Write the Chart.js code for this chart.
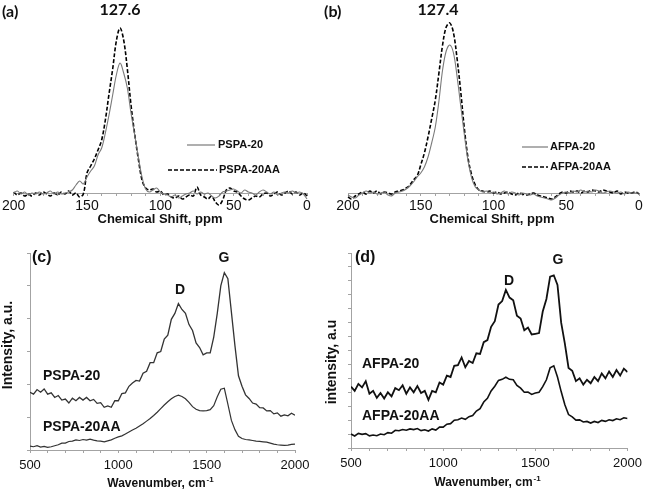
<!DOCTYPE html>
<html>
<head>
<meta charset="utf-8">
<script src="https://cdn.jsdelivr.net/npm/chart.js@4.4.1/dist/chart.umd.min.js"></script>
<style>
    body { margin: 0; background: #fff; }
    .panel { position: absolute; }
    canvas { display: block; }
</style>
</head>
<body>
<div class="panel" style="left:0;top:0"><canvas id="chartA" width="323" height="230"></canvas></div>
<div class="panel" style="left:323px;top:0"><canvas id="chartB" width="324" height="230"></canvas></div>
<div class="panel" style="left:0;top:230px"><canvas id="chartC" width="323" height="263"></canvas></div>
<div class="panel" style="left:323px;top:230px"><canvas id="chartD" width="324" height="263"></canvas></div>
<script>
// NMR chemical shift grid, ppm
const nmrShift = [200, 197.5, 195, 192.5, 190, 187.5, 185, 182.5, 180, 177.5, 175, 172.5, 170, 167.5, 165, 162.5, 160, 157.5, 155, 152.5,
    150, 147.5, 145, 142.5, 140, 137.5, 135, 132.5, 130, 127.5, 125, 122.5, 120, 117.5, 115, 112.5, 110, 107.5, 105, 102.5,
    100, 97.5, 95, 92.5, 90, 87.5, 85, 82.5, 80, 77.5, 75, 72.5, 70, 67.5, 65, 62.5, 60, 57.5, 55, 52.5,
    50, 47.5, 45, 42.5, 40, 37.5, 35, 32.5, 30, 27.5, 25, 22.5, 20, 17.5, 15, 12.5, 10, 7.5, 5, 2.5, 0];

// (a)
const pspa20 = [0, 2, -1, 1, -2, 0, -1, 1, -1, 0, 2, -1, 1, -1, 0, 1, 3, 8, 12, 9,
    16, 22, 27, 38, 45, 60, 78, 98, 118, 130, 120, 105, 80, 58, 36, 16, 4, 1, 3, 5,
    1, -1, -2, -4, -2, -5, -3, -1, 0, 2, -1, 1, -1, 0, -3, -5, -3, 1, 2, 3,
    4, 2, 0, 3, 1, 0, -2, 1, 3, 1, -1, 1, -2, 0, 1, 0, 2, 0, 1, -1, -6];
const pspa20AA = [1, -2, 0, -3, -1, -3, 0, -2, 1, -1, -3, 0, -2, 1, -1, 2, -2, 0, -4, -1,
    20, 27, 34, 43, 53, 73, 99, 124, 152, 165, 153, 124, 88, 59, 34, 13, 5, 3, 4, 1,
    2, -2, -1, -4, -5, -3, -6, -4, -2, -3, 6, -2, -4, -6, -3, -9, -12, -7, 3, 5,
    2, 1, -3, -6, -7, -5, -3, -4, -1, 0, -3, -1, 1, -2, 0, 2, -1, 1, -2, 0, -3];

// (b)
const afpa20Nmr = [-2, -4, -5, -2, 0, 2, 0, 1, -1, 0, 1, -2, -3, 0, 1, 2, 4, 7, 11, 16,
    20, 26, 36, 50, 66, 92, 123, 142, 148, 140, 116, 87, 58, 32, 15, 6, 3, 1, 2, 0,
    1, -1, 0, 2, -1, 1, 0, -2, 0, -1, -2, -1, -3, -4, -5, -6, -7, -5, -2, 0,
    1, 0, 2, 1, 3, 1, 2, 1, 3, 2, 0, 1, 2, 1, 0, 1, -1, 1, 0, 0, 0];
const afpa20AANmr = [-4, -6, -3, -1, 1, -1, 2, 0, 2, -1, 1, 0, -1, 1, 2, 3, 5, 8, 13, 17,
    28, 40, 56, 74, 93, 120, 148, 166, 170, 160, 134, 101, 64, 35, 18, 8, 3, 2, 1, 2,
    0, 1, -1, 0, 1, -1, -2, 0, -1, -2, -1, 0, -2, -3, -4, -5, -6, -4, -1, 1,
    0, 2, 1, 2, 0, 2, 1, 3, 2, 1, 3, 2, 1, 0, 2, -1, 1, 0, 0, 1, -1];

// Raman wavenumber grid, cm-1
const ramanX = [500, 520, 540, 560, 580, 600, 620, 640, 660, 680, 700, 720, 740, 760, 780, 800, 820, 840, 860, 880,
    900, 920, 940, 960, 980, 1000, 1020, 1040, 1060, 1080, 1100, 1120, 1140, 1160, 1180, 1200, 1220, 1240, 1260, 1280,
    1300, 1320, 1340, 1360, 1380, 1400, 1420, 1440, 1460, 1480, 1500, 1520, 1540, 1560, 1580, 1600, 1620, 1640, 1660, 1680,
    1700, 1720, 1740, 1760, 1780, 1800, 1820, 1840, 1860, 1880, 1900, 1920, 1940, 1960, 1980, 2000];

// (c)
const pspa20Raman = [1.76, 1.70, 1.84, 1.76, 1.86, 1.70, 1.74, 1.60, 1.66, 1.52,
    1.55, 1.43, 1.58, 1.50, 1.60, 1.52, 1.60, 1.50, 1.54, 1.42,
    1.44, 1.30, 1.34, 1.30, 1.50, 1.50, 1.72, 1.74, 1.94, 2.04,
    2.12, 2.10, 2.34, 2.40, 2.66, 2.66, 2.96, 3.00, 3.38, 3.50,
    3.98, 4.16, 4.46, 4.28, 4.16, 3.82, 3.64, 3.26, 3.12, 2.90,
    2.96, 2.96, 3.44, 4.16, 5.00, 5.40, 5.22, 4.20, 3.18, 2.26,
    1.94, 1.68, 1.57, 1.43, 1.40, 1.29, 1.28, 1.19, 1.20, 1.10,
    1.13, 1.03, 1.07, 1.04, 1.12, 1.06];
const pspa20AARaman = [0.12, 0.10, 0.13, 0.09, 0.11, 0.08, 0.10, 0.13, 0.16, 0.21,
    0.21, 0.26, 0.27, 0.31, 0.29, 0.32, 0.30, 0.33, 0.30, 0.28,
    0.27, 0.25, 0.28, 0.31, 0.36, 0.40, 0.43, 0.49, 0.55, 0.61,
    0.66, 0.73, 0.80, 0.88, 0.96, 1.05, 1.15, 1.26, 1.37, 1.47,
    1.56, 1.63, 1.67, 1.63, 1.56, 1.45, 1.32, 1.24, 1.20, 1.19,
    1.20, 1.23, 1.35, 1.62, 1.85, 1.88, 1.40, 0.90, 0.62, 0.42,
    0.35, 0.32, 0.31, 0.29, 0.27, 0.26, 0.25, 0.24, 0.21, 0.18,
    0.16, 0.15, 0.14, 0.15, 0.17, 0.18];

// (d)
const afpa20Raman = [4.40, 4.10, 4.60, 4.35, 4.80, 3.90, 4.10, 3.60, 3.95, 3.55,
    4.00, 3.70, 4.30, 4.15, 4.50, 3.90, 4.35, 4.00, 4.45, 3.95,
    4.10, 3.45, 4.10, 4.00, 4.70, 4.55, 5.20, 5.10, 5.90, 5.95,
    6.50, 5.80, 6.25, 6.10, 6.80, 6.75, 7.60, 7.75, 8.70, 9.10,
    10.30, 10.55, 11.35, 10.80, 10.60, 9.50, 9.30, 8.45, 8.65, 8.15,
    8.20, 8.25, 9.80, 10.70, 12.30, 12.40, 11.70, 9.00, 7.50, 5.75,
    5.55, 4.80, 5.00, 4.55, 4.90, 4.65, 5.10, 4.80, 5.35, 5.00,
    5.50, 5.10, 5.60, 5.20, 5.70, 5.45];
const afpa20AARaman = [1.00, 0.86, 1.05, 0.98, 1.03, 0.87, 0.93, 0.88, 1.00, 0.95,
    1.10, 1.06, 1.27, 1.24, 1.33, 1.28, 1.37, 1.32, 1.40, 1.25,
    1.31, 1.22, 1.37, 1.29, 1.50, 1.50, 1.71, 1.75, 2.00, 2.03,
    2.15, 2.06, 2.25, 2.33, 2.65, 2.83, 3.30, 3.57, 4.10, 4.43,
    4.85, 4.93, 5.08, 4.93, 4.90, 4.50, 4.30, 4.00, 4.01, 3.85,
    3.95, 4.00, 4.40, 4.90, 5.75, 5.90, 5.10, 4.05, 3.10, 2.40,
    2.23, 2.00, 2.02, 1.87, 1.91, 1.79, 1.91, 1.83, 1.98, 1.91,
    2.03, 1.97, 2.10, 2.03, 2.17, 2.12];

Chart.defaults.font.family = '"Liberation Sans", Arial, sans-serif';
Chart.defaults.color = '#111';

const AXIS_GRAY = '#a3a3a3';
const ARIAL = '"Liberation Sans", Arial, sans-serif';

// free text + legend samples drawn on top
const panelText = {
    id: 'panelText',
    afterDraw(chart, args, opts) {
        const ctx = chart.ctx;
        ctx.save();
        (opts.lines || []).forEach(l => {
            ctx.beginPath();
            ctx.strokeStyle = l.color;
            ctx.lineWidth = l.width;
            ctx.setLineDash(l.dash || []);
            ctx.moveTo(l.x1, l.y);
            ctx.lineTo(l.x2, l.y);
            ctx.stroke();
        });
        ctx.setLineDash([]);
        ctx.textBaseline = 'middle';
        ctx.fillStyle = '#111';
        (opts.texts || []).forEach(t => {
            ctx.font = t.font;
            if (t.rotate) {
                ctx.save();
                ctx.translate(t.x, t.y);
                ctx.rotate(-Math.PI / 2);
                ctx.textAlign = 'center';
                ctx.fillText(t.text, 0, 0);
                ctx.restore();
            } else if (t.sup) {
                const w1 = ctx.measureText(t.text).width;
                ctx.font = t.supFont;
                const w2 = ctx.measureText(t.sup).width;
                const x0 = t.x - (w1 + w2) / 2;
                ctx.textAlign = 'left';
                ctx.fillText(t.sup, x0 + w1 + 1, t.y - 4);
                ctx.font = t.font;
                ctx.fillText(t.text, x0, t.y);
            } else {
                ctx.textAlign = t.align || 'left';
                ctx.fillText(t.text, t.x, t.y);
            }
        });
        ctx.restore();
    },
};

function pairs(xs, ys) {
    return xs.map((x, i) => ({ x: x, y: ys[i] }));
}

function xAxis(min, max, step, labelEvery, height, reverse, fontSize, pad) {
    return {
        type: 'linear',
        min: min,
        max: max,
        reverse: reverse,
        afterFit: s => { s.height = height; },
        border: { color: AXIS_GRAY, width: 1 },
        grid: { drawOnChartArea: false, color: AXIS_GRAY, tickLength: 3 },
        ticks: {
            stepSize: step,
            autoSkip: false,
            maxRotation: 0,
            padding: pad,
            font: { size: fontSize },
            color: '#111',
            callback: v => (v % labelEvery === 0 ? v : ''),
        },
    };
}

function nmrChart(id, padding, solid, dashed, text) {
    return new Chart(document.getElementById(id), {
        type: 'line',
        data: {
            datasets: [
                {
                    data: pairs(nmrShift, solid),
                    borderColor: '#7a7a7a',
                    borderWidth: 1.1,
                    pointRadius: 0,
                    tension: 0.35,
                    clip: false,
                },
                {
                    data: pairs(nmrShift, dashed),
                    borderColor: '#000',
                    borderWidth: 1.6,
                    borderDash: [4, 2],
                    pointRadius: 0,
                    tension: 0.35,
                    clip: false,
                },
            ],
        },
        options: {
            responsive: false,
            animation: false,
            layout: { padding: padding },
            scales: {
                x: xAxis(0, 200, 10, 50, 37, true, 14, 2),
                y: { display: false, min: 0, max: 180 },
            },
            plugins: { legend: { display: false }, tooltip: { enabled: false }, panelText: text },
        },
        plugins: [panelText],
    });
}

function ramanChart(id, padding, yMax, yWidth, xHeight, upper, lower, color, widths, text) {
    return new Chart(document.getElementById(id), {
        type: 'line',
        data: {
            datasets: [
                { data: pairs(ramanX, upper), borderColor: color, borderWidth: widths[0], pointRadius: 0, tension: 0 },
                { data: pairs(ramanX, lower), borderColor: color, borderWidth: widths[1], pointRadius: 0, tension: 0 },
            ],
        },
        options: {
            responsive: false,
            animation: false,
            layout: { padding: padding },
            scales: {
                x: xAxis(500, 2000, 100, 500, xHeight, false, 13, 5),
                y: {
                    min: 0,
                    max: yMax,
                    afterFit: s => { s.width = yWidth; },
                    border: { color: AXIS_GRAY, width: 1 },
                    grid: { drawOnChartArea: false, color: AXIS_GRAY, tickLength: 3 },
                    ticks: { stepSize: 1, display: false },
                },
            },
            plugins: { legend: { display: false }, tooltip: { enabled: false }, panelText: text },
        },
        plugins: [panelText],
    });
}

const legendFont = 'bold 11px ' + ARIAL;
const titleFont = 'bold 13px ' + ARIAL;

nmrChart('chartA', { left: 12, right: 16, top: 13, bottom: 0 }, pspa20, pspa20AA, {
    lines: [
        { x1: 187, x2: 215, y: 145, color: '#7a7a7a', width: 1.2 },
        { x1: 168, x2: 217, y: 170, color: '#000', width: 1.6, dash: [4, 2] },
    ],
    texts: [
        { text: '(a)', x: 2, y: 12, font: 'bold 16px Lato' },
        { text: '127.6', x: 120, y: 10, font: 'bold 16px Lato', align: 'center' },
        { text: 'PSPA-20', x: 218, y: 145, font: legendFont },
        { text: 'PSPA-20AA', x: 219, y: 170, font: legendFont },
        { text: 'Chemical Shift, ppm', x: 160, y: 219, font: titleFont, align: 'center' },
    ],
});

nmrChart('chartB', { left: 25, right: 8, top: 13, bottom: 0 }, afpa20Nmr, afpa20AANmr, {
    lines: [
        { x1: 199, x2: 225, y: 147, color: '#7a7a7a', width: 1.2 },
        { x1: 199, x2: 225, y: 167, color: '#000', width: 1.6, dash: [4, 2] },
    ],
    texts: [
        { text: '(b)', x: 1, y: 12, font: 'bold 16px Lato' },
        { text: '127.4', x: 115, y: 10, font: 'bold 16px Lato', align: 'center' },
        { text: 'AFPA-20', x: 227, y: 147, font: legendFont },
        { text: 'AFPA-20AA', x: 227, y: 167, font: legendFont },
        { text: 'Chemical Shift, ppm', x: 169, y: 219, font: titleFont, align: 'center' },
    ],
});

ramanChart('chartC', { left: 0, right: 28, top: 23, bottom: 0 }, 6, 30, 43,
    pspa20Raman, pspa20AARaman, '#333', [1.3, 1.2], {
        texts: [
            { text: '(c)', x: 32, y: 28, font: 'bold 16px ' + ARIAL },
            { text: 'D', x: 180, y: 60, font: 'bold 14px ' + ARIAL, align: 'center' },
            { text: 'G', x: 224, y: 28, font: 'bold 14px ' + ARIAL, align: 'center' },
            { text: 'PSPA-20', x: 43, y: 146, font: 'bold 14px ' + ARIAL },
            { text: 'PSPA-20AA', x: 43, y: 197, font: 'bold 14px ' + ARIAL },
            { text: 'Intensity, a.u.', x: 8, y: 115, font: 'bold 14px ' + ARIAL, rotate: true },
            { text: 'Wavenumber, cm', sup: '-1', x: 160, y: 254, font: 'bold 12px ' + ARIAL, supFont: 'bold 8px ' + ARIAL },
        ],
    });

ramanChart('chartD', { left: 0, right: 15, top: 23, bottom: 0 }, 14, 28, 45,
    afpa20Raman, afpa20AARaman, '#111', [1.8, 1.6], {
        texts: [
            { text: '(d)', x: 32, y: 28, font: 'bold 16px ' + ARIAL },
            { text: 'D', x: 186, y: 51, font: 'bold 14px ' + ARIAL, align: 'center' },
            { text: 'G', x: 235, y: 30, font: 'bold 14px ' + ARIAL, align: 'center' },
            { text: 'AFPA-20', x: 39, y: 134, font: 'bold 14px ' + ARIAL },
            { text: 'AFPA-20AA', x: 39, y: 186, font: 'bold 14px ' + ARIAL },
            { text: 'intensity, a.u', x: 9, y: 132, font: 'bold 14px ' + ARIAL, rotate: true },
            { text: 'Wavenumber, cm', sup: '-1', x: 164, y: 253, font: 'bold 12px ' + ARIAL, supFont: 'bold 8px ' + ARIAL },
        ],
    });
</script>
</body>
</html>
